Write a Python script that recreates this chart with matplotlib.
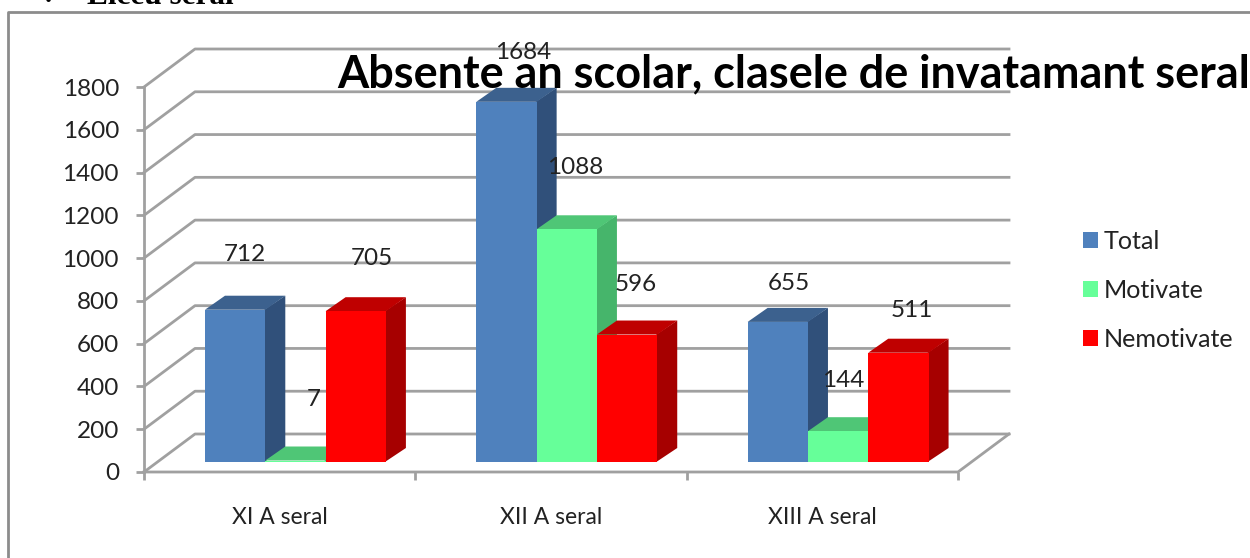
from matplotlib import pyplot as plt
from matplotlib.patches import Polygon, Rectangle
import numpy as np

categories = ['XI A seral', 'XII A seral', 'XIII A seral']
series_names = ['Total', 'Motivate', 'Nemotivate']
total = [712, 1684, 655]
motivate = [7, 1088, 144]
nemotivate = [705, 596, 511]
y_ticks = [0, 200, 400, 600, 800, 1000, 1200, 1400, 1600, 1800]

W, H = 1250, 558
plt.rcParams['font.family'] = ['Lato', 'DejaVu Sans']
fig = plt.figure(figsize=(W / 100, H / 100), dpi=100)
ax = fig.add_axes([144 / W, 1 - 472 / H, 814 / W, 385 / H])
ax.set_xlim(0, 3)
ax.set_ylim(0, 1800)
ax.patch.set_alpha(0)
for s in ax.spines.values():
    s.set_visible(False)

px = 3 / 814   # one pixel in x data
py = 1800 / 385  # one pixel in y data
grid = '#a0a0a0'
ink = '#222222'
label_size = 17.5

# walls and floor
wall_dx, wall_dy = 51 * px, 38 * py
for v in y_ticks:
    ax.plot([0, wall_dx, 3 + wall_dx], [v, v + wall_dy, v + wall_dy], color=grid, lw=2, clip_on=False, zorder=1)
ax.plot([0, 3, 3 + wall_dx], [0, 0, wall_dy], color=grid, lw=2, clip_on=False, zorder=1)
ax.plot([0, 0], [0, 1800], color=grid, lw=2, clip_on=False, zorder=1)

ax.set_xticks([0, 1, 2, 3])
ax.set_xticklabels([])
ax.set_xticks([0.5, 1.5, 2.5], labels=categories, minor=True)
ax.tick_params(axis='x', which='major', length=6, width=2, color=grid)
ax.tick_params(axis='x', which='minor', length=0, pad=25.5, labelsize=16.5, labelcolor=ink)
ax.set_yticks(y_ticks)
ax.tick_params(axis='y', length=6, width=2, color=grid, labelsize=label_size, labelcolor=ink, pad=12)

# 3d bars
bar_w = 60.3 * px
start = 61 * px
lift = 10 * py
depth_x, depth_y = 20 * px, 14 * py
colors = [('#4f81bd', '#3c618e', '#30507a'),
          ('#66ff99', '#4fc676', '#46b56b'),
          ('#ff0000', '#bf0000', '#a60000')]
series = [total, motivate, nemotivate]

# (dx, dy) of each value label from its bar top centre, in pixels
nudges = [[(10, 55), (17, 49), (11, 38)],
          [(18, 61), (8, 62), (5, 51)],
          [(16, 53), (9, 50), (13, 42)]]

for i in range(len(categories)):
    for j, values in enumerate(series):
        v = values[i]
        x0 = i + start + j * bar_w
        x1 = x0 + bar_w
        front, top, side = colors[j]
        z = 3 + j * 0.1
        ax.bar(x0, v, bar_w, bottom=lift, align='edge', color=front, clip_on=False, zorder=z)
        ax.add_patch(Polygon([(x1 - px, lift), (x1 + depth_x, lift + depth_y), (x1 + depth_x, lift + v + depth_y), (x1 - px, lift + v)],
                             facecolor=side, clip_on=False, zorder=z - 0.05))
        ax.add_patch(Polygon([(x0, lift + v), (x0 + depth_x, lift + v + depth_y), (x1 + depth_x, lift + v + depth_y), (x1, lift + v)],
                             facecolor=top, clip_on=False, zorder=z - 0.05))
        ax.annotate(str(v), (x0 + bar_w / 2, lift + v), xytext=nudges[j][i], textcoords='offset pixels',
                    ha='center', va='center', fontsize=label_size, color=ink, zorder=6, annotation_clip=False)

# legend
handles = [Rectangle((0, 0), 1, 1, facecolor=colors[j][0]) for j in range(3)]
fig.legend(handles, series_names, loc='upper left', bbox_to_anchor=(1083 / W, 1 - 230 / H), frameon=False,
           fontsize=18.1, handlelength=0.6, handleheight=0.6, handletextpad=0.24, labelspacing=1.04,
           labelcolor=ink, borderpad=0, borderaxespad=0)

fig.text(1250 / W, 1 - 87 / H, 'Absente an scolar, clasele de invatamant seral', ha='right', va='baseline',
         fontsize=32.4, fontweight='bold', color='black', zorder=8)

# surrounding page bits
fig.add_artist(plt.Line2D([8 / W, 8 / W, 1], [0, 1 - 12 / H, 1 - 12 / H], color='#8c8c8c', lw=2))
fig.text(87 / W, 1 - 4 / H, 'Liceu seral', family='Liberation Serif', fontweight='bold', fontsize=22.5, va='baseline')
fig.text(45 / W, 1 - 4 / H, '\u2022', fontsize=9, va='baseline', color='black')

plt.savefig('out.png', dpi=100)
